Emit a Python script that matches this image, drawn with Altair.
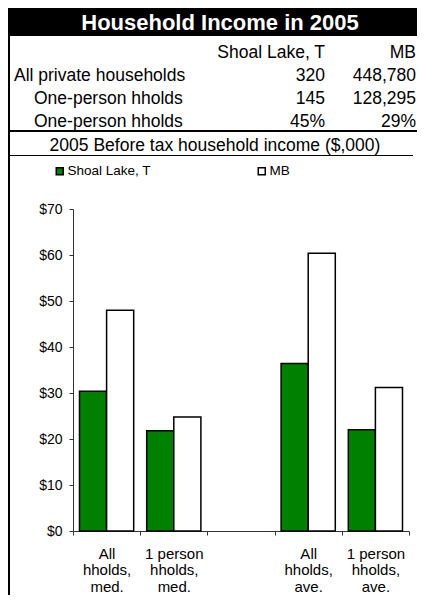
import altair as alt
import pandas as pd

FONT = "Liberation Sans"

# ---- data ----
title_text = "Household Income in 2005"
header = ["Shoal Lake, T", "MB"]
row_labels = ["All private households", "One-person hholds", "One-person hholds"]
col_shoal = ["320", "145", "45%"]
col_mb = ["448,780", "128,295", "29%"]
subtitle = "2005 Before tax household income ($,000)"

series = ["Shoal Lake, T", "MB"]
all_categories = ["All|hholds,|med.", "1 person|hholds,|med.", " ", "All|hholds,|ave.", "1 person|hholds,|ave."]
bar_categories = ["All|hholds,|med.", "1 person|hholds,|med.", "All|hholds,|ave.", "1 person|hholds,|ave."]
shoal_values = [30.4, 21.8, 36.4, 22.0]
mb_values = [48.0, 24.8, 60.4, 31.2]
y_ticks = [0, 10, 20, 30, 40, 50, 60, 70]

# ---- layout (pixels relative to the plot area) ----
PW, PH = 336, 322
LEFT, TOP = 65, 201
RIGHT = 409 - LEFT - PW
BOTTOM = 587 - TOP - PH
TBL_FS = 17.5
XR = PW + RIGHT  # right edge of the drawing

one = pd.DataFrame({"k": [0]})


def text_layer(txt, x, y, align="left", size=TBL_FS, color="black", weight="normal"):
    return alt.Chart(pd.DataFrame({"t": [txt]})).mark_text(
        font=FONT, fontSize=size, color=color, fontWeight=weight, align=align, baseline="middle"
    ).encode(x=alt.value(x), y=alt.value(y), text="t:N")


layers = []
# title bar
layers.append(alt.Chart(one).mark_rect(color="black").encode(
    x=alt.value(-LEFT), x2=alt.value(XR), y=alt.value(-TOP), y2=alt.value(-173)))
layers.append(text_layer(title_text, 147, -186, align="center", size=22, color="white", weight="bold"))

# table rows
row_y = [-156, -133.5, -110.5, -87]
layers.append(text_layer(header[0], 252, row_y[0], align="right"))
layers.append(text_layer(header[1], XR - 1, row_y[0], align="right"))
for i, (lab, a, b) in enumerate(zip(row_labels, col_shoal, col_mb)):
    lx = -59 if i == 0 else -39
    layers.append(text_layer(lab, lx, row_y[i + 1], align="left"))
    layers.append(text_layer(a, 252, row_y[i + 1], align="right"))
    layers.append(text_layer(b, XR - 1, row_y[i + 1], align="right"))

layers.append(alt.Chart(one).mark_rule(color="black", strokeWidth=2).encode(
    x=alt.value(-LEFT), x2=alt.value(XR), y=alt.value(-78)))
layers.append(text_layer(subtitle, 142, -63, align="center"))
layers.append(alt.Chart(one).mark_rule(color="black", strokeWidth=1).encode(
    x=alt.value(-LEFT), x2=alt.value(XR - 4), y=alt.value(-53.5)))
layers.append(alt.Chart(one).mark_rule(color="black", strokeWidth=2).encode(
    x=alt.value(-64), y=alt.value(-TOP), y2=alt.value(PH + BOTTOM)))

# ---- bars ----
rows = []
for c, s, m in zip(bar_categories, shoal_values, mb_values):
    rows.append({"category": c, "series": series[0], "value": s})
    rows.append({"category": c, "series": series[1], "value": m})
bars_df = pd.DataFrame(rows)

bars = alt.Chart(bars_df).mark_bar(stroke="black", strokeWidth=1.5).encode(
    x=alt.X("category:N",
            scale=alt.Scale(domain=all_categories, paddingInner=0, paddingOuter=0),
            axis=alt.Axis(title=None, labelAngle=0, labelExpr="split(datum.label, '|')",
                          tickBand="extent", domainColor="#333333", tickColor="#333333",
                          tickSize=4, labelFont=FONT, labelFontSize=15, labelLineHeight=16.5,
                          labelColor="black", labelPadding=11)),
    xOffset=alt.XOffset("series:N", scale=alt.Scale(domain=series, paddingOuter=0.24, paddingInner=0)),
    y=alt.Y("value:Q", scale=alt.Scale(domain=[0, 70], nice=False),
            axis=alt.Axis(title=None, values=y_ticks, labelExpr="'$' + datum.value", grid=False,
                          domainColor="#333333", tickColor="#333333", tickSize=4,
                          labelFont=FONT, labelFontSize=14, labelColor="black", labelPadding=7)),
    color=alt.Color("series:N", scale=alt.Scale(domain=series, range=["#008000", "#ffffff"]),
                    legend=alt.Legend(title=None, orient="none", legendX=-20, legendY=-45,
                                      direction="horizontal", symbolType="square", symbolSize=49,
                                      symbolStrokeColor="black", symbolStrokeWidth=1.5,
                                      labelFont=FONT, labelFontSize=13.5, labelColor="black",
                                      labelOffset=1, columnPadding=104, padding=0)),
)

chart = alt.layer(bars, *layers).properties(
    width=PW, height=PH,
    autosize=alt.AutoSizeParams(type="none"),
    padding={"left": LEFT, "top": TOP, "right": RIGHT, "bottom": BOTTOM},
).configure(font=FONT).configure_view(strokeWidth=0)

chart.save("out.html", embed_options={"renderer": "svg", "actions": False})
